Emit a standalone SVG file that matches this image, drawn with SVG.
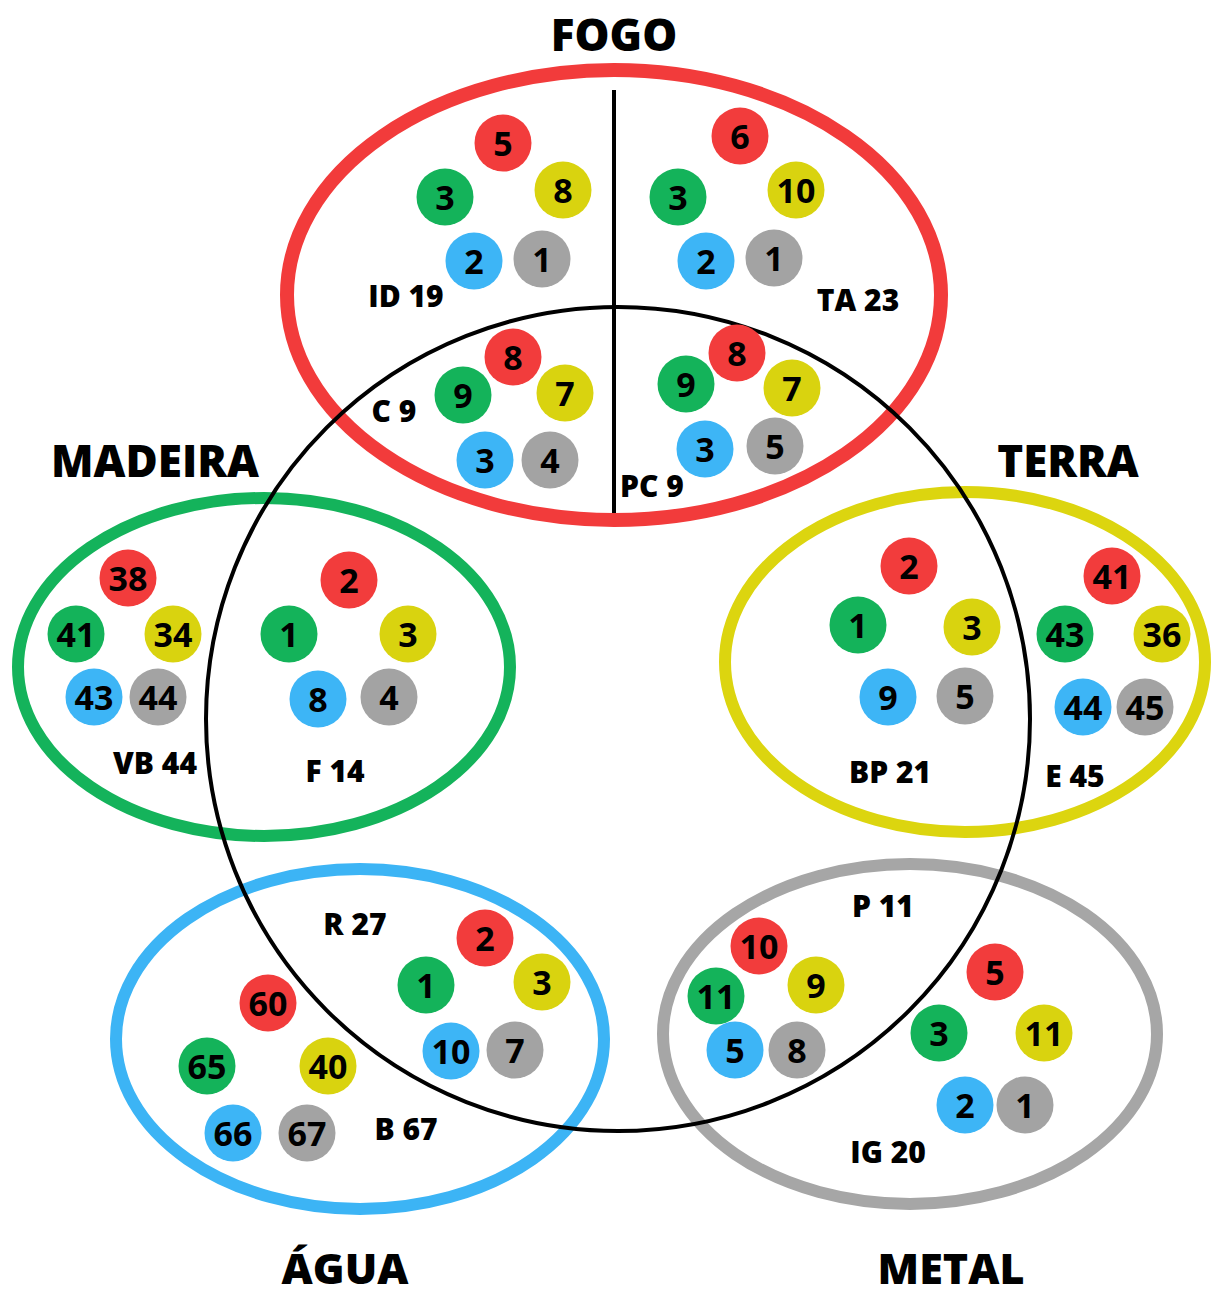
<svg xmlns="http://www.w3.org/2000/svg" width="1212" height="1299" viewBox="0 0 1212 1299">
<style>
.t{font-family:"Open Sans","Liberation Sans",sans-serif;font-weight:800;fill:#000;text-anchor:middle}
.title{font-size:44px}
.lab{font-size:30px}
.num{font-size:34px;font-weight:700;dominant-baseline:central}
.r{fill:#f23c3c}.g{fill:#14b35a}.y{fill:#d9d30f}.b{fill:#3db5f6}.k{fill:#a3a3a3}
.ring{fill:none}
</style>
<rect width="1212" height="1299" fill="#fff"/>
<g id="rings">
<ellipse id="fogo" class="ring" cx="614" cy="295" rx="327" ry="225" stroke="#f23b3b" stroke-width="14"/>
<ellipse id="madeira" class="ring" cx="264" cy="667" rx="246" ry="169" stroke="#14b35b" stroke-width="12"/>
<ellipse id="terra" class="ring" cx="965" cy="662" rx="240" ry="170" stroke="#dcd50f" stroke-width="12"/>
<ellipse id="agua" class="ring" cx="360" cy="1039" rx="244" ry="170" stroke="#3cb4f5" stroke-width="12"/>
<ellipse id="metal" class="ring" cx="910" cy="1034" rx="247" ry="170" stroke="#a6a6a6" stroke-width="12"/>
</g>
<g id="connectors">
<circle cx="618" cy="719" r="412" fill="none" stroke="#000" stroke-width="4"/>
<line x1="614" y1="90" x2="614" y2="513" stroke="#000" stroke-width="4"/>
</g>
<g id="titles" class="t title">
<text x="614" y="51">FOGO</text>
<text x="155" y="477">MADEIRA</text>
<text x="1068" y="477">TERRA</text>
<text x="345" y="1284" font-size="43">ÁGUA</text>
<text x="951" y="1284" font-size="43">METAL</text>
</g>
<g id="labels" class="t lab">
<text x="406" y="307">ID 19</text>
<text x="858" y="311">TA 23</text>
<text x="394" y="422">C 9</text>
<text x="652" y="497">PC 9</text>
<text x="155" y="774">VB 44</text>
<text x="335" y="782">F 14</text>
<text x="890" y="783">BP 21</text>
<text x="1075" y="787">E 45</text>
<text x="355" y="935">R 27</text>
<text x="406" y="1140">B 67</text>
<text x="883" y="917">P 11</text>
<text x="888" y="1163">IG 20</text>
</g>
<g id="dots">
<g id="id19">
<circle class="r" cx="503" cy="143" r="28.5"/><text class="t num" x="503" y="143">5</text>
<circle class="g" cx="445" cy="197" r="28.5"/><text class="t num" x="445" y="197">3</text>
<circle class="y" cx="563" cy="190" r="28.5"/><text class="t num" x="563" y="190">8</text>
<circle class="b" cx="474" cy="261" r="28.5"/><text class="t num" x="474" y="261">2</text>
<circle class="k" cx="542" cy="259" r="28.5"/><text class="t num" x="542" y="259">1</text>
</g>
<g id="ta23">
<circle class="r" cx="740" cy="136" r="28.5"/><text class="t num" x="740" y="136">6</text>
<circle class="g" cx="678" cy="197" r="28.5"/><text class="t num" x="678" y="197">3</text>
<circle class="y" cx="796" cy="190" r="28.5"/><text class="t num" x="796" y="190">10</text>
<circle class="b" cx="706" cy="261" r="28.5"/><text class="t num" x="706" y="261">2</text>
<circle class="k" cx="774" cy="258" r="28.5"/><text class="t num" x="774" y="258">1</text>
</g>
<g id="c9">
<circle class="g" cx="463" cy="395" r="28.5"/><text class="t num" x="463" y="395">9</text>
<circle class="r" cx="513" cy="357" r="28.5"/><text class="t num" x="513" y="357">8</text>
<circle class="y" cx="565" cy="393" r="28.5"/><text class="t num" x="565" y="393">7</text>
<circle class="b" cx="485" cy="460" r="28.5"/><text class="t num" x="485" y="460">3</text>
<circle class="k" cx="550" cy="460" r="28.5"/><text class="t num" x="550" y="460">4</text>
</g>
<g id="pc9">
<circle class="g" cx="686" cy="384" r="28.5"/><text class="t num" x="686" y="384">9</text>
<circle class="r" cx="737" cy="353" r="28.5"/><text class="t num" x="737" y="353">8</text>
<circle class="y" cx="792" cy="388" r="28.5"/><text class="t num" x="792" y="388">7</text>
<circle class="b" cx="705" cy="449" r="28.5"/><text class="t num" x="705" y="449">3</text>
<circle class="k" cx="775" cy="446" r="28.5"/><text class="t num" x="775" y="446">5</text>
</g>
<g id="vb44">
<circle class="r" cx="128" cy="578" r="28.5"/><text class="t num" x="128" y="578">38</text>
<circle class="g" cx="76" cy="634" r="28.5"/><text class="t num" x="76" y="634">41</text>
<circle class="y" cx="173" cy="634" r="28.5"/><text class="t num" x="173" y="634">34</text>
<circle class="b" cx="94" cy="697" r="28.5"/><text class="t num" x="94" y="697">43</text>
<circle class="k" cx="158" cy="697" r="28.5"/><text class="t num" x="158" y="697">44</text>
</g>
<g id="f14">
<circle class="r" cx="349" cy="580" r="28.5"/><text class="t num" x="349" y="580">2</text>
<circle class="g" cx="289" cy="634" r="28.5"/><text class="t num" x="289" y="634">1</text>
<circle class="y" cx="408" cy="634" r="28.5"/><text class="t num" x="408" y="634">3</text>
<circle class="b" cx="318" cy="699" r="28.5"/><text class="t num" x="318" y="699">8</text>
<circle class="k" cx="389" cy="697" r="28.5"/><text class="t num" x="389" y="697">4</text>
</g>
<g id="bp21">
<circle class="r" cx="909" cy="566" r="28.5"/><text class="t num" x="909" y="566">2</text>
<circle class="g" cx="858" cy="625" r="28.5"/><text class="t num" x="858" y="625">1</text>
<circle class="y" cx="972" cy="627" r="28.5"/><text class="t num" x="972" y="627">3</text>
<circle class="b" cx="888" cy="697" r="28.5"/><text class="t num" x="888" y="697">9</text>
<circle class="k" cx="965" cy="696" r="28.5"/><text class="t num" x="965" y="696">5</text>
</g>
<g id="e45">
<circle class="r" cx="1112" cy="576" r="28.5"/><text class="t num" x="1112" y="576">41</text>
<circle class="g" cx="1065" cy="634" r="28.5"/><text class="t num" x="1065" y="634">43</text>
<circle class="y" cx="1162" cy="634" r="28.5"/><text class="t num" x="1162" y="634">36</text>
<circle class="b" cx="1083" cy="707" r="28.5"/><text class="t num" x="1083" y="707">44</text>
<circle class="k" cx="1145" cy="707" r="28.5"/><text class="t num" x="1145" y="707">45</text>
</g>
<g id="r27">
<circle class="r" cx="485" cy="938" r="28.5"/><text class="t num" x="485" y="938">2</text>
<circle class="g" cx="426" cy="985" r="28.5"/><text class="t num" x="426" y="985">1</text>
<circle class="y" cx="542" cy="982" r="28.5"/><text class="t num" x="542" y="982">3</text>
<circle class="b" cx="451" cy="1051" r="28.5"/><text class="t num" x="451" y="1051">10</text>
<circle class="k" cx="515" cy="1050" r="28.5"/><text class="t num" x="515" y="1050">7</text>
</g>
<g id="b67">
<circle class="r" cx="268" cy="1003" r="28.5"/><text class="t num" x="268" y="1003">60</text>
<circle class="g" cx="207" cy="1066" r="28.5"/><text class="t num" x="207" y="1066">65</text>
<circle class="y" cx="328" cy="1066" r="28.5"/><text class="t num" x="328" y="1066">40</text>
<circle class="b" cx="233" cy="1133" r="28.5"/><text class="t num" x="233" y="1133">66</text>
<circle class="k" cx="307" cy="1133" r="28.5"/><text class="t num" x="307" y="1133">67</text>
</g>
<g id="p11">
<circle class="r" cx="759" cy="946" r="28.5"/><text class="t num" x="759" y="946">10</text>
<circle class="g" cx="716" cy="996" r="28.5"/><text class="t num" x="716" y="996">11</text>
<circle class="y" cx="816" cy="985" r="28.5"/><text class="t num" x="816" y="985">9</text>
<circle class="b" cx="735" cy="1050" r="28.5"/><text class="t num" x="735" y="1050">5</text>
<circle class="k" cx="797" cy="1050" r="28.5"/><text class="t num" x="797" y="1050">8</text>
</g>
<g id="ig20">
<circle class="r" cx="995" cy="972" r="28.5"/><text class="t num" x="995" y="972">5</text>
<circle class="g" cx="939" cy="1033" r="28.5"/><text class="t num" x="939" y="1033">3</text>
<circle class="y" cx="1044" cy="1033" r="28.5"/><text class="t num" x="1044" y="1033">11</text>
<circle class="b" cx="965" cy="1105" r="28.5"/><text class="t num" x="965" y="1105">2</text>
<circle class="k" cx="1025" cy="1105" r="28.5"/><text class="t num" x="1025" y="1105">1</text>
</g>
</g>
</svg>
